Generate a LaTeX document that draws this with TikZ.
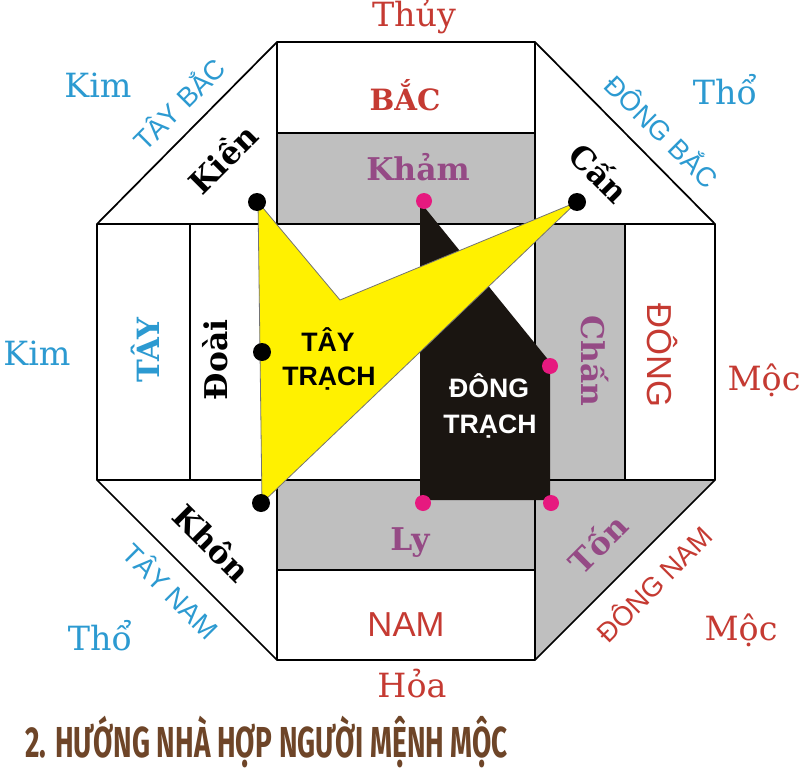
\documentclass[tikz,border=0pt]{standalone}
\usepackage{fontspec}
\setmainfont{DejaVu Serif}
\newfontfamily\sansf{Liberation Sans}
\newfontfamily\titlef{Fira Sans}[FakeStretch=0.645]
\definecolor{rd}{HTML}{C53A32}
\definecolor{bl}{HTML}{2C9AD1}
\definecolor{pu}{HTML}{954A85}
\definecolor{gr}{HTML}{BFBFBF}
\definecolor{mg}{HTML}{E6197F}
\definecolor{ye}{HTML}{FFF100}
\definecolor{br}{HTML}{6E4528}
\definecolor{bk}{HTML}{1A1511}
\tikzset{
  wall/.style={line width=1.3pt, draw=black},
  outer/.style={font=\fontsize{25}{25}\selectfont, anchor=base, inner sep=0pt},
  lbl/.style={font=\bfseries\fontsize{23.5}{24}\selectfont, inner sep=0pt},
  dirw/.style={font=\sansf\fontsize{20.5}{20.5}\selectfont, inner sep=0pt},
  bigsans/.style={font=\sansf\fontsize{26}{26}\selectfont, inner sep=0pt, text=rd},
  zone/.style={font=\sansf\bfseries\fontsize{20}{20}\selectfont, anchor=base, inner sep=0pt},
  bdot/.style={circle, fill=black, minimum size=13.5pt, inner sep=0pt},
  mdot/.style={circle, fill=mg, minimum size=12pt, inner sep=0pt},
}
\begin{document}
\begin{tikzpicture}[x=0.75pt, y=-0.75pt]
\useasboundingbox (0,0) rectangle (800,774);
\fill[white] (0,0) rectangle (800,774);
% gray regions
\fill[gr] (277,133) rectangle (535,224);
\fill[gr] (535,224) rectangle (625,480);
\fill[gr] (277,480) rectangle (535,570);
\fill[gr] (535,480) -- (715,480) -- (535,660) -- cycle;
% lines
\draw[wall] (277,42) -- (535,42) -- (715,224) -- (715,480) -- (535,660) -- (277,660) -- (97,480) -- (97,224) -- cycle;
\draw[wall] (277,42) -- (277,660);
\draw[wall] (535,42) -- (535,660);
\draw[wall] (97,224) -- (715,224);
\draw[wall] (97,480) -- (715,480);
\draw[wall] (277,133) -- (535,133);
\draw[wall] (277,570) -- (535,570);
\draw[wall] (190,224) -- (190,480);
\draw[wall] (625,224) -- (625,480);
% Dong trach (black)
\fill[bk, rounded corners=3pt] (421,203) -- (550,362) -- (550,500) -- (420,500) -- (420,203) -- cycle;
% Tay trach (yellow)
\filldraw[fill=ye, draw=black!55, line width=0.6pt] (258,202) -- (340,300) -- (577,202) -- (262,503) -- cycle;
% dots
\node[bdot] (kien) at (257,202) {};
\node[bdot] (can) at (577,202) {};
\node[bdot] (doai) at (262,352) {};
\node[bdot] (khon) at (261,503) {};
\node[mdot] (kham) at (424,201) {};
\node[mdot] (chan) at (550,366) {};
\node[mdot] (ly) at (423,503) {};
\node[mdot] (ton) at (551,503) {};
% outer element labels
\node[outer, text=rd] (thuy) at (414,27) {Thủy};
\node[outer, text=bl] (kim1) at (98,98) {Kim};
\node[outer, text=bl] (kim2) at (37,365) {Kim};
\node[outer, text=bl] (tho1) at (725,104) {Thổ};
\node[outer, text=bl] (tho2) at (100,650) {Thổ};
\node[outer, text=rd] (moc1) at (764,390) {Mộc};
\node[outer, text=rd] (moc2) at (741,640) {Mộc};
\node[outer, text=rd] (hoa) at (412,697) {Hỏa};
% main directions
\node[font=\bfseries\fontsize{22}{22}\selectfont, text=rd, anchor=base, inner sep=0pt] (bac) at (405,110) {BẮC};
\node[bigsans, anchor=base] (nam) at (406,636) {NAM};
\node[bigsans, rotate=-90] (dong) at (662,355) {ĐÔNG};
\node[font=\bfseries\fontsize{23}{23}\selectfont, text=bl, rotate=90, inner sep=0pt] (tay) at (145,350) {TÂY};
% diagonal directions
\node[dirw, text=bl, rotate=45] (taybac) at (178,103) {TÂY BẮC};
\node[dirw, text=bl, rotate=-45] (dongbac) at (663,130) {ĐÔNG BẮC};
\node[dirw, text=bl, rotate=-45] (taynam) at (172,590) {TÂY NAM};
\node[dirw, text=rd, rotate=45] (dongnam) at (653,583) {ĐÔNG NAM};
% trigram labels
\node[lbl, text=pu, anchor=base] (khamt) at (418,180) {Khảm};
\node[lbl, text=pu, anchor=base] (lyt) at (410,550) {Ly};
\node[lbl, text=pu, rotate=-90] (chant) at (595,361) {Chấn};
\node[lbl, text=black, rotate=90] (doait) at (215,360) {Đoài};
\node[lbl, text=black, rotate=45] (kient) at (222,158) {Kiền};
\node[lbl, text=black, rotate=-45] (cant) at (600,172) {Cấn};
\node[lbl, text=black, rotate=-45] (khont) at (212,543) {Khôn};
\node[lbl, text=pu, rotate=45] (tont) at (597,543) {Tốn};
% zone labels
\node[zone, text=black] (tt1) at (328,351) {TÂY};
\node[zone, text=black] (tt2) at (329,385) {TRẠCH};
\node[zone, text=white] (dt1) at (489,397) {ĐÔNG};
\node[zone, text=white] (dt2) at (490,433) {TRẠCH};
% title
\node[anchor=base west, inner sep=0pt, text=br, font=\titlef\bfseries\fontsize{32.5}{33}\selectfont] (title) at (25,757) {2. HƯỚNG NHÀ HỢP NGƯỜI MỆNH MỘC};
\end{tikzpicture}
\end{document}
